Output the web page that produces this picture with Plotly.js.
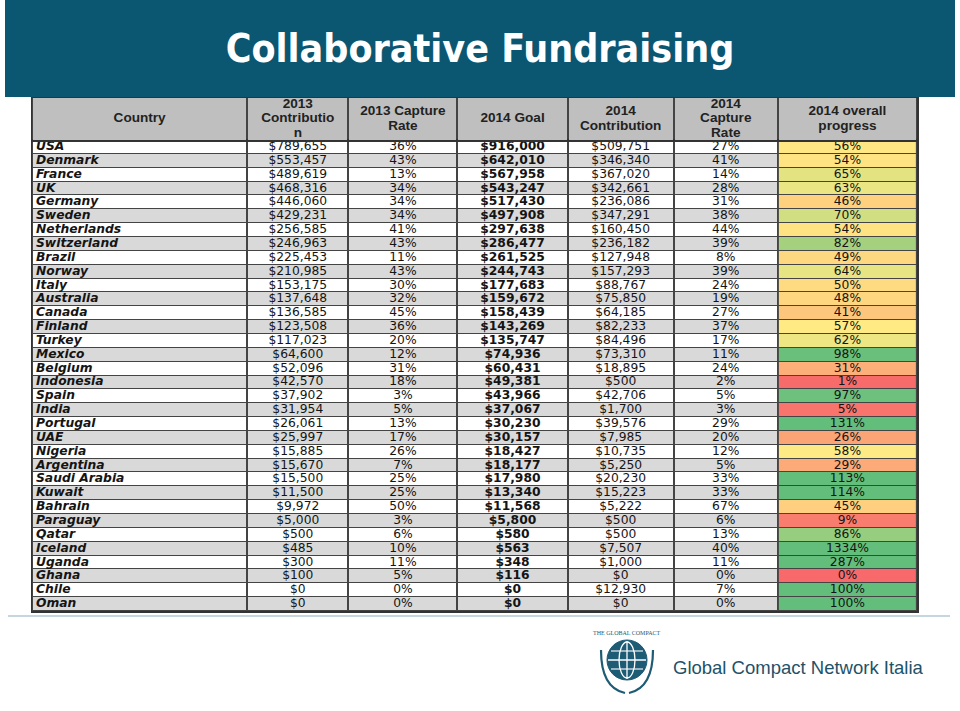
<!DOCTYPE html>
<html><head><meta charset="utf-8">
<script src="https://cdn.plot.ly/plotly-3.0.1.min.js"></script>
<style>html,body{margin:0;padding:0;background:#fff}#chart{width:960px;height:711px}</style>
</head><body><div id="chart"></div>
<script>
// ---------------- DATA ----------------
const countries = ['USA','Denmark','France','UK','Germany','Sweden','Netherlands','Switzerland','Brazil','Norway','Italy','Australia','Canada','Finland','Turkey','Mexico','Belgium','Indonesia','Spain','India','Portugal','UAE','Nigeria','Argentina','Saudi Arabia','Kuwait','Bahrain','Paraguay','Qatar','Iceland','Uganda','Ghana','Chile','Oman'];
const contrib2013 = [789655,553457,489619,468316,446060,429231,256585,246963,225453,210985,153175,137648,136585,123508,117023,64600,52096,42570,37902,31954,26061,25997,15885,15670,15500,11500,9972,5000,500,485,300,100,0,0];
const rate2013 = [36,43,13,34,34,34,41,43,11,43,30,32,45,36,20,12,31,18,3,5,13,17,26,7,25,25,50,3,6,10,11,5,0,0];
const goal2014 = [916000,642010,567958,543247,517430,497908,297638,286477,261525,244743,177683,159672,158439,143269,135747,74936,60431,49381,43966,37067,30230,30157,18427,18177,17980,13340,11568,5800,580,563,348,116,0,0];
const contrib2014 = [509751,346340,367020,342661,236086,347291,160450,236182,127948,157293,88767,75850,64185,82233,84496,73310,18895,500,42706,1700,39576,7985,10735,5250,20230,15223,5222,500,500,7507,1000,0,12930,0];
const rate2014 = [27,41,14,28,31,38,44,39,8,39,24,19,27,37,17,11,24,2,5,3,29,20,12,5,33,33,67,6,13,40,11,0,7,0];
const progress2014 = [56,54,65,63,46,70,54,82,49,64,50,48,41,57,62,98,31,1,97,5,131,26,58,29,113,114,45,9,86,1334,287,0,100,100];
const headerLabels = ['Country','2013<br>Contributio<br>n','2013 Capture<br>Rate','2014 Goal','2014<br>Contribution','2014<br>Capture<br>Rate','2014 overall<br>progress'];
const titleText = 'Collaborative Fundraising';
const footerText = 'Global Compact Network Italia';

// ---------------- LAYOUT HELPERS ----------------
const W = 960, H = 711;
const colWidths = [215,101,109,110,106,104,139];
const edges = [0];
colWidths.forEach(w => edges.push(edges[edges.length-1] + w));
const total = edges[edges.length-1];
const centers = colWidths.map((w,i) => edges[i] + w/2);
const rows = countries.map((_, i) => i);
const money = v => '$' + v.toLocaleString('en-US');
const pct = v => v + '%';
const px = v => v / W, py = v => 1 - v / H;
const headerH = 42, lineStep = 14.5;

// Excel-like 3-colour scale: min 0 -> red, median -> yellow, 100% -> green
const sorted = [...progress2014].sort((a,b) => a-b);
const n = sorted.length;
const median = n % 2 ? sorted[(n-1)/2] : (sorted[n/2-1] + sorted[n/2]) / 2;
const mid = median / 100;

const cellFont = {family:'DejaVu Sans, Verdana, sans-serif', size:12.3, color:'#141414'};

const traces = [];
// body fills (alternating rows)
traces.push({type:'heatmap', x: edges.slice(0,7), y: rows,
  z: rows.map(i => Array(6).fill(i % 2)), zmin:0, zmax:1,
  colorscale:[[0,'#ffffff'],[1,'#d9d9d9']], showscale:false, xgap:2, ygap:1, hoverinfo:'skip'});
// progress column colour scale
traces.push({type:'heatmap', x: [edges[6], edges[7]], y: rows,
  z: progress2014.map(v => [v]), zmin:0, zmax:100,
  colorscale:[[0,'#F8696B'],[mid,'#FFEB84'],[1,'#63BE7B']], showscale:false, xgap:2, ygap:1, hoverinfo:'skip'});
// header fill
traces.push({type:'heatmap', x: edges, y:[-headerH/2, headerH/2], z:[Array(7).fill(0)], zmin:0, zmax:1,
  colorscale:[[0,'#bfbfbf'],[1,'#bfbfbf']], showscale:false, xgap:2, ygap:0, hoverinfo:'skip', yaxis:'y2'});

function textTrace(xv, texts, font, pos) {
  return {type:'scatter', mode:'text', x: texts.map(() => xv), y: rows,
    text: texts, textposition: pos || 'middle center', textfont: font,
    hoverinfo:'skip', showlegend:false, cliponaxis:false};
}
traces.push(textTrace(edges[0] + 4, countries, Object.assign({}, cellFont, {weight:'bold', style:'italic'}), 'middle right'));
traces.push(textTrace(centers[1], contrib2013.map(money), cellFont));
traces.push(textTrace(centers[2], rate2013.map(pct), cellFont));
traces.push(textTrace(centers[3], goal2014.map(money), Object.assign({}, cellFont, {weight:'bold'})));
traces.push(textTrace(centers[4], contrib2014.map(money), cellFont));
traces.push(textTrace(centers[5], rate2014.map(pct), cellFont));
traces.push(textTrace(centers[6], progress2014.map(pct), cellFont));

// header labels: one point per line so line spacing can be tight like the original
const hx = [], hy = [], ht = [];
headerLabels.forEach((lab, i) => {
  const lines = lab.split('<br>');
  lines.forEach((ln, j) => { hx.push(centers[i]); hy.push((j - (lines.length - 1) / 2) * lineStep); ht.push(ln); });
});
traces.push({type:'scatter', mode:'text', x: hx, y: hy, text: ht,
  textposition:'middle center', textfont:{family:'Liberation Sans, Arial, sans-serif', size:13.6, color:'#222', weight:'bold'},
  hoverinfo:'skip', showlegend:false, yaxis:'y2', cliponaxis:false});

const axisStyle = {showgrid:false, zeroline:false, showticklabels:false, ticks:'', showline:true,
  linecolor:'#333', linewidth:1.5, fixedrange:true};

const layout = {
  width: W, height: H, margin:{l:0, r:0, t:0, b:0},
  paper_bgcolor:'#ffffff', plot_bgcolor:'#444444', showlegend:false,
  title:{text:titleText, x:0.5, xanchor:'center', y:py(48), yref:'container', yanchor:'middle',
    font:{family:'Liberation Sans Narrow, DejaVu Sans Condensed, Arial Narrow, sans-serif', size:39, color:'#ffffff', weight:'bold'}},
  xaxis: Object.assign({}, axisStyle, {domain:[px(32), px(917)], range:[0, total], mirror:'all'}),
  yaxis: Object.assign({}, axisStyle, {domain:[py(611), py(140)], range:[33.5, -0.5], mirror:true, anchor:'x'}),
  yaxis2: Object.assign({}, axisStyle, {domain:[py(140), py(98)], range:[headerH/2, -headerH/2], mirror:true, anchor:'x'}),
  shapes:[
    {type:'rect', xref:'paper', yref:'paper', x0:px(5), x1:px(955), y0:py(97), y1:1, fillcolor:'#0b5671', line:{width:0}, layer:'below'},
    {type:'line', xref:'paper', yref:'paper', x0:px(8), x1:px(950), y0:py(616), y1:py(616), line:{color:'#c5d6de', width:2}, layer:'below'},
    // logo globe
    {type:'circle', xref:'paper', yref:'paper', x0:px(607), x1:px(647), y0:py(680), y1:py(640), fillcolor:'#1e5b75', line:{color:'#1e5b75', width:1}},
    {type:'circle', xref:'paper', yref:'paper', x0:px(619), x1:px(635), y0:py(678), y1:py(642), line:{color:'#ffffff', width:1.3}},
    {type:'line', xref:'paper', yref:'paper', x0:px(627), x1:px(627), y0:py(679), y1:py(641), line:{color:'#ffffff', width:1.3}},
    {type:'line', xref:'paper', yref:'paper', x0:px(608), x1:px(646), y0:py(660), y1:py(660), line:{color:'#ffffff', width:1.3}},
    {type:'line', xref:'paper', yref:'paper', x0:px(611), x1:px(643), y0:py(651), y1:py(651), line:{color:'#ffffff', width:1.1}},
    {type:'line', xref:'paper', yref:'paper', x0:px(611), x1:px(643), y0:py(669), y1:py(669), line:{color:'#ffffff', width:1.1}},
    {type:'path', xref:'paper', yref:'paper', path:`M ${px(601)} ${py(650)} Q ${px(601)} ${py(688)} ${px(625)} ${py(693)}`, line:{color:'#1e5b75', width:2.2}},
    {type:'path', xref:'paper', yref:'paper', path:`M ${px(653)} ${py(650)} Q ${px(653)} ${py(688)} ${px(629)} ${py(693)}`, line:{color:'#1e5b75', width:2.2}}
  ],
  annotations:[
    {xref:'paper', yref:'paper', x:px(671), y:py(667), xanchor:'left', yanchor:'middle', showarrow:false,
      text:footerText, font:{family:'Liberation Sans, Roboto, sans-serif', size:18.5, color:'#1d5268'}},
    {xref:'paper', yref:'paper', x:px(627), y:py(633), xanchor:'center', yanchor:'middle', showarrow:false,
      text:'THE GLOBAL COMPACT', font:{family:'Liberation Serif, serif', size:6, color:'#1e5b75'}}
  ]
};

Plotly.newPlot('chart', traces, layout, {staticPlot:true, displayModeBar:false});
</script></body></html>
